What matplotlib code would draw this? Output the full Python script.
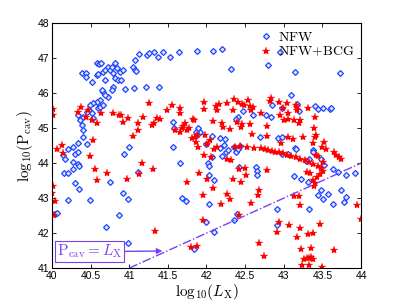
import matplotlib
matplotlib.use("Agg")
import matplotlib.pyplot as plt

plt.rcParams['mathtext.fontset'] = 'cm'
plt.rcParams['font.family'] = ['Liberation Sans', 'DejaVu Sans']

# NFW (blue diamonds)
nfw_x = [40.39, 40.44, 40.44, 40.52, 40.58, 40.61, 40.63, 40.58, 40.60, 40.66, 40.69, 40.69,
         40.72, 40.75, 40.78, 40.82, 40.84, 40.79, 40.82, 40.85, 40.90, 40.88, 40.92, 40.94,
         40.79, 40.78, 40.72, 40.66, 40.65, 40.69, 40.62, 40.58, 40.53, 40.49, 40.48, 40.45,
         40.52, 40.53, 40.40, 40.34, 40.36, 40.39, 40.40, 40.40, 40.34, 40.60, 40.62, 40.66,
         41.05, 41.07, 41.13, 41.23, 41.26, 41.32, 41.37, 41.44, 41.53, 41.64, 41.88, 41.07,
         41.09, 41.06, 41.22, 41.39, 42.08, 42.20, 42.32, 42.80, 42.95, 43.15, 43.73,
         43.09, 43.17, 43.20, 42.85, 42.98, 43.40, 43.44, 43.51, 43.60, 43.61, 42.47, 42.41,
         42.38, 42.60, 42.77, 42.83, 42.69, 42.93, 42.98, 43.15, 43.38, 42.17, 42.24, 42.07,
         41.92, 41.57, 41.58, 41.89, 41.86, 41.88, 41.57, 41.00,
         40.04, 40.06, 40.21, 40.16, 40.21, 40.30, 40.35, 40.27, 40.34, 40.35, 40.27, 40.49,
         40.70, 40.75, 40.87, 40.92, 40.98, 40.93, 40.98, 41.11, 41.66, 41.68, 41.73, 41.84,
         40.14, 40.17, 40.21, 40.27, 40.30, 40.34, 40.45,
         42.17, 42.23, 42.25, 42.28, 42.20, 42.36, 42.38, 42.41, 42.43, 42.02, 42.03, 42.07,
         42.03, 42.10, 42.03, 41.99, 42.10, 42.36, 42.39, 42.42, 42.64, 42.65, 42.65, 42.98,
         42.91, 42.91, 41.99,
         43.16, 43.06, 43.13, 43.22, 43.33, 43.29, 43.38, 43.48, 43.52, 43.64, 43.70, 43.81,
         43.92, 43.74, 43.81, 43.78, 43.64, 43.51, 43.44, 43.57, 43.48, 43.33, 43.31]
nfw_y = [46.57, 46.57, 46.46, 46.31, 46.86, 46.83, 46.86, 46.51, 46.54, 46.60, 46.66, 46.37,
         46.74, 46.66, 46.74, 46.86, 46.71, 46.57, 46.43, 46.37, 46.37, 46.60, 46.66, 46.11,
         46.17, 46.09, 45.89, 46.03, 46.09, 45.94, 45.80, 45.74, 45.71, 45.66, 45.51, 45.46,
         45.43, 45.29, 45.31, 45.37, 45.23, 45.09, 44.94, 44.74, 44.57, 45.57, 45.60, 45.66,
         46.74, 46.94, 47.11, 47.09, 47.14, 47.17, 47.03, 47.17, 47.03, 47.17, 47.20, 46.66,
         46.63, 46.14, 46.17, 46.17, 47.20, 47.26, 46.69, 46.80, 47.17, 46.60, 46.57,
         45.94, 45.69, 45.49, 45.66, 45.57, 45.63, 45.54, 45.57, 45.54, 45.57, 45.49, 45.31,
         45.26, 45.37, 45.37, 45.31, 44.74, 44.71, 44.74, 44.43, 44.37, 44.71, 44.69, 44.77,
         44.89, 45.17, 45.00, 45.00, 44.89, 44.80, 44.46, 44.46,
         42.54, 42.57, 42.94, 43.71, 43.71, 43.43, 43.26, 43.83, 43.97, 43.91, 44.03, 42.94,
         42.17, 43.46, 42.51, 43.14, 42.97, 44.26, 41.71, 43.74, 44.00, 43.00, 42.91, 41.54,
         44.23, 44.11, 44.40, 44.46, 44.26, 44.31, 44.54,
         44.43, 44.51, 44.31, 44.37, 44.20, 44.46, 44.31, 44.40, 44.49, 44.00, 43.91, 44.17,
         43.66, 43.51, 42.83, 42.31, 42.03, 42.37, 42.54, 43.89, 43.89, 43.77, 43.66, 44.26,
         42.69, 42.23, 44.54,
         44.40, 44.26, 43.63, 43.54, 44.11, 44.06, 44.31, 44.11, 43.94, 43.83, 43.74, 43.66,
         43.71, 43.23, 43.03, 42.89, 42.83, 42.97, 43.09, 43.11, 43.23, 42.69, 43.46]

# NFW+BCG (red stars)
bcg_x = [40.01, 40.01, 40.01, 40.00, 40.04, 40.03, 40.06, 40.14, 40.13,
         40.49, 40.56, 40.58, 40.71, 40.97, 41.13, 41.17, 41.31, 41.33, 41.75, 41.80, 41.88,
         41.90, 40.53, 41.95, 41.95,
         40.34, 40.38, 40.47, 40.44, 40.52, 40.58, 40.63, 40.79, 40.87, 40.89, 40.92, 40.98,
         41.05, 41.11, 41.11, 41.18, 41.26, 41.29, 41.32, 41.36, 41.40, 41.49, 41.55, 41.66,
         41.66, 41.70, 41.72, 41.68, 41.66, 41.83, 41.85, 41.81, 41.86, 41.89, 41.97, 41.97,
         41.84, 41.75, 41.77, 41.59, 41.88,
         42.12, 42.14, 42.16, 42.27, 42.36, 42.41, 42.46, 42.54, 42.56, 42.60, 42.58, 42.49,
         42.34, 42.83, 42.82, 42.94, 43.04, 43.17, 43.31, 43.40, 43.21, 43.06, 42.95, 42.71,
         42.08, 42.20, 42.21, 42.39, 42.30, 42.45, 42.46, 42.56, 42.59, 42.78, 42.78, 43.06,
         43.25, 43.40, 43.39, 43.52, 41.98, 42.05,
         42.37, 42.43, 42.52, 42.61, 42.71, 42.76, 42.80, 42.85, 42.89, 42.94, 42.99, 43.04,
         43.09, 43.16, 43.21, 43.28, 43.33, 43.38, 43.44, 43.48, 43.51, 43.47, 43.43, 43.38,
         43.40, 43.39, 43.30, 43.34,
         42.99, 43.00, 43.06, 43.16, 43.17, 43.13, 43.20, 43.42, 43.12, 43.38, 42.96, 43.55,
         43.50, 43.65, 43.68, 43.72, 43.74, 43.44, 43.51, 43.42,
         42.01, 41.97, 42.06, 42.10, 42.14, 42.27, 42.32, 42.42, 42.50, 42.51, 42.45, 42.34,
         42.08, 42.01, 42.27, 42.30, 42.19, 42.58, 42.68, 42.67, 42.78, 42.42, 42.68, 42.74,
         42.91, 42.94,
         43.13, 43.20, 43.21, 43.95, 44.00, 43.47, 43.07, 43.21, 43.17, 43.31, 43.38, 43.65,
         43.22, 43.35, 43.26, 43.30, 43.33, 43.35, 43.38, 43.24, 43.33, 43.50]
bcg_y = [45.54, 45.37, 43.34, 43.14, 42.91, 42.51, 44.40, 44.29, 44.51,
         44.20, 43.83, 43.51, 43.71, 43.54, 43.69, 44.00, 43.83, 42.06, 43.46, 41.60, 41.63,
         43.71, 44.66, 43.09, 42.37,
         45.46, 45.60, 45.51, 45.31, 45.23, 45.14, 45.43, 45.43, 45.37, 45.37, 45.17, 45.29,
         44.77, 44.94, 45.14, 45.31, 45.71, 45.09, 45.14, 45.29, 45.26, 45.51, 45.66, 45.57,
         45.43, 45.06, 45.14, 45.00, 44.89, 45.26, 44.74, 44.71, 44.60, 44.46, 45.74, 45.54,
         45.23, 44.94, 45.00, 44.94, 44.80,
         45.63, 45.51, 45.69, 45.71, 45.83, 45.74, 45.69, 45.80, 45.63, 45.60, 45.51, 45.66,
         45.51, 45.86, 45.77, 45.74, 45.71, 45.60, 45.57, 45.31, 45.23, 45.26, 45.37, 45.43,
         45.20, 45.14, 45.03, 45.17, 44.97, 45.03, 45.11, 45.11, 44.83, 45.06, 44.77, 44.74,
         44.74, 44.74, 45.00, 44.60, 44.80, 44.66,
         44.46, 44.49, 44.46, 44.43, 44.43, 44.40, 44.37, 44.34, 44.31, 44.31, 44.29, 44.23,
         44.20, 44.17, 44.11, 44.09, 44.03, 43.97, 43.91, 43.86, 43.77, 43.69, 43.60, 43.51,
         43.43, 43.34, 43.74, 43.71,
         45.57, 45.23, 45.43, 45.66, 45.51, 45.23, 45.14, 44.80, 44.69, 44.57, 44.57, 44.40,
         44.46, 44.31, 44.23, 44.17, 44.11, 44.20, 44.03, 44.23,
         44.54, 44.23, 44.17, 44.40, 44.46, 44.11, 44.09, 43.83, 43.86, 43.66, 43.46, 43.54,
         43.29, 43.54, 43.11, 42.97, 42.83, 42.86, 43.23, 43.09, 43.80, 42.51, 41.71, 41.34,
         42.03, 42.31,
         43.06, 43.06, 42.80, 42.80, 42.40, 42.26, 42.23, 42.14, 41.89, 41.97, 42.00, 41.51,
         41.54, 41.57, 41.26, 41.29, 41.29, 41.31, 41.26, 41.09, 41.09, 41.03]

# P_cav = L_X reference line
line_x = [41, 44]
line_y = [41, 44]

purple = '#7a3ff0'

fig = plt.figure(figsize=(3.99, 3.03), dpi=100)
ax = fig.add_axes([0.130, 0.115, 0.775, 0.809])

ax.plot(nfw_x, nfw_y, 'D', ms=3.0, mfc='#dfe6ff', mec='#1f44ff', mew=0.9,
        label=r'$\mathrm{NFW}$')
ax.plot(bcg_x, bcg_y, '*', ms=6, color='red', mec='red', mew=0.2,
        label=r'$\mathrm{NFW{+}BCG}$')
ax.plot(line_x, line_y, '-.', color=purple, lw=1.0)

ax.annotate(r'$\mathrm{P}_{\mathrm{cav}}=L_{\mathrm{X}}$', xy=(41.43, 41.49), xytext=(40.49, 41.47),
            ha='center', va='center', fontsize=11, color=purple,
            bbox=dict(boxstyle='square,pad=0.12', fc='white', ec=purple, lw=0.8),
            arrowprops=dict(arrowstyle='-|>', color=purple, lw=1.0, mutation_scale=8,
                            shrinkA=0, shrinkB=0))

ax.set_xlim(40, 44)
ax.set_ylim(41, 48)
ax.set_xticks([40, 40.5, 41, 41.5, 42, 42.5, 43, 43.5, 44])
ax.set_xticklabels(['40', '40.5', '41', '41.5', '42', '42.5', '43', '43.5', '44'])
ax.set_yticks(range(41, 49))
ax.tick_params(direction='in', top=True, right=True, labelsize=7.5, length=3, width=0.6, pad=2)
for s in ax.spines.values():
    s.set_linewidth(0.8)

ax.set_xlabel(r'$\mathrm{log}_{10}(L_{\mathrm{X}})$', fontsize=11, labelpad=1)
ax.set_ylabel(r'$\mathrm{log}_{10}(\mathrm{P}_{\mathrm{cav}})$', fontsize=11, labelpad=2)

ax.legend(loc='upper right', frameon=False, fontsize=10, handletextpad=0.3,
          borderaxespad=0.1, labelspacing=0.05, handlelength=1.0)

plt.savefig('out.png', dpi=100)
